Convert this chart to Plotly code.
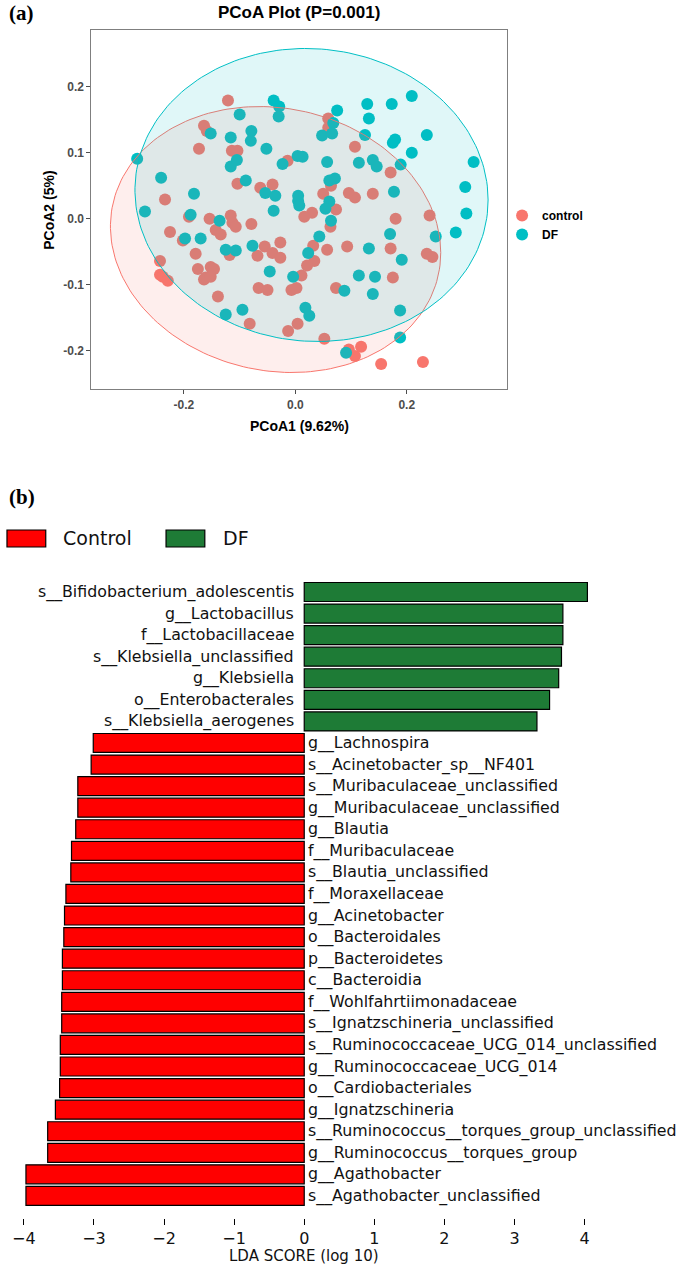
import numpy as np
import plotly.graph_objects as go

# ---------------- data: PCoA ----------------
control_x = [-0.121, -0.164, -0.159, -0.173, -0.114, -0.104, 0.059, 0.059, 0.107, -0.014,
             0.171, -0.104, -0.063, -0.041, -0.234, 0.050, 0.064, 0.096, 0.107, 0.139,
             0.030, 0.073, 0.016, 0.241, 0.180, 0.063, -0.191, -0.154, -0.116, -0.113,
             -0.107, -0.079, -0.225, -0.143, -0.134, -0.202, -0.179, -0.118, -0.027, -0.055,
             -0.041, -0.027, -0.068, 0.032, 0.057, 0.093, 0.171, 0.236, 0.246, -0.243,
             0.034, 0.021, -0.175, -0.152, -0.146, -0.243, -0.238, -0.229, -0.164, -0.161,
             -0.152, 0.011, 0.175, -0.139, -0.066, -0.050, -0.007, 0.002, 0.073, -0.082,
             0.004, -0.013, 0.052, 0.096, 0.107, 0.118, 0.154, 0.229]
control_y = [0.179, 0.141, 0.133, 0.106, 0.103, 0.103, 0.152, 0.138, 0.109, 0.088,
             0.070, 0.053, 0.047, 0.052, 0.029, 0.038, 0.050, 0.039, 0.032, 0.038,
             0.009, 0.014, 0.003, 0.005, 0.000, -0.012, 0.003, 0.000, 0.005, -0.006,
             -0.012, -0.008, -0.020, -0.017, -0.024, -0.033, -0.053, -0.055, -0.036, -0.042,
             -0.052, -0.059, -0.056, -0.041, -0.047, -0.042, -0.045, -0.053, -0.058, -0.064,
             -0.064, -0.071, -0.076, -0.073, -0.076, -0.085, -0.088, -0.094, -0.092, -0.089,
             -0.088, -0.086, -0.089, -0.118, -0.105, -0.108, -0.108, -0.105, -0.105, -0.159,
             -0.159, -0.170, -0.182, -0.198, -0.208, -0.194, -0.220, -0.217]

df_x = [-0.039, -0.029, -0.030, -0.100, 0.075, 0.068, 0.048, 0.066, 0.129, 0.132,
        0.125, 0.173, 0.209, 0.236, 0.179, 0.175, 0.209, 0.139, 0.146, 0.189,
        0.320, 0.305, -0.152, -0.116, -0.116, -0.105, -0.284, -0.241, -0.182, -0.270,
        -0.079, -0.080, -0.052, 0.004, 0.013, -0.023, 0.057, 0.114, -0.089, -0.054,
        -0.036, 0.005, 0.005, 0.007, 0.061, 0.071, 0.061, 0.054, -0.039, 0.177,
        -0.188, -0.136, 0.064, -0.198, -0.170, -0.125, -0.107, -0.077, 0.023, 0.043,
        0.132, 0.170, 0.252, 0.288, 0.307, 0.191, -0.046, -0.004, 0.114, 0.143,
        0.088, 0.139, -0.125, -0.095, 0.018, 0.025, 0.188, 0.091, 0.188]
df_y = [0.179, 0.170, 0.155, 0.158, 0.164, 0.145, 0.126, 0.129, 0.174, 0.152,
        0.127, 0.174, 0.186, 0.127, 0.120, 0.115, 0.100, 0.089, 0.079, 0.082,
        0.086, 0.048, 0.129, 0.123, 0.079, 0.089, 0.091, 0.062, 0.038, 0.011,
        0.133, 0.118, 0.106, 0.095, 0.094, 0.083, 0.086, 0.085, 0.058, 0.039,
        0.035, 0.035, 0.027, 0.020, 0.058, 0.061, 0.026, 0.015, 0.012, 0.041,
        0.006, -0.003, -0.003, -0.030, -0.030, -0.047, -0.048, -0.041, -0.052, -0.027,
        -0.045, -0.023, -0.027, -0.021, 0.008, -0.062, -0.080, -0.088, -0.086, -0.088,
        -0.109, -0.114, -0.145, -0.138, -0.135, -0.147, -0.139, -0.203, -0.180]

# ellipse parameters: centre and covariance-like shape matrix
ellipse_control = {"cx": -0.0355, "cy": -0.0315, "sxx": 0.2965 ** 2, "syy": 0.2015 ** 2, "sxy": -0.0059}
ellipse_df = {"cx": 0.029, "cy": 0.036, "sxx": 0.317 ** 2, "syy": 0.222 ** 2, "sxy": -0.0024}

# ---------------- data: LDA ----------------
lda_taxa = ["s__Bifidobacterium_adolescentis", "g__Lactobacillus", "f__Lactobacillaceae",
            "s__Klebsiella_unclassified", "g__Klebsiella", "o__Enterobacterales",
            "s__Klebsiella_aerogenes", "g__Lachnospira", "s__Acinetobacter_sp__NF401",
            "s__Muribaculaceae_unclassified", "g__Muribaculaceae_unclassified", "g__Blautia",
            "f__Muribaculaceae", "s__Blautia_unclassified", "f__Moraxellaceae", "g__Acinetobacter",
            "o__Bacteroidales", "p__Bacteroidetes", "c__Bacteroidia", "f__Wohlfahrtiimonadaceae",
            "s__Ignatzschineria_unclassified", "s__Ruminococcaceae_UCG_014_unclassified",
            "g__Ruminococcaceae_UCG_014", "o__Cardiobacteriales", "g__Ignatzschineria",
            "s__Ruminococcus__torques_group_unclassified", "g__Ruminococcus__torques_group",
            "g__Agathobacter", "s__Agathobacter_unclassified"]
lda_scores = [4.04, 3.69, 3.69, 3.67, 3.63, 3.50, 3.32, -3.01, -3.04, -3.23, -3.23, -3.26,
              -3.32, -3.33, -3.40, -3.42, -3.43, -3.45, -3.45, -3.46, -3.46, -3.48, -3.48,
              -3.49, -3.55, -3.66, -3.66, -3.97, -3.97]
lda_ticks = [-4, -3, -2, -1, 0, 1, 2, 3, 4]

W, H = 685, 1269
def fx(p):
    return p / W
def fy(p):
    return 1 - p / H

C_RED = "#F8766D"
C_CYAN = "#00BFC4"

fig = go.Figure()

# points
fig.add_trace(go.Scatter(x=control_x, y=control_y, mode="markers", name="control",
                         marker=dict(color=C_RED, size=12, line=dict(width=0)),
                         xaxis="x", yaxis="y"))
fig.add_trace(go.Scatter(x=df_x, y=df_y, mode="markers", name="DF",
                         marker=dict(color=C_CYAN, size=12, line=dict(width=0)),
                         xaxis="x", yaxis="y"))

def ellipse_pts(e, n=200):
    A = np.array([[e["sxx"], e["sxy"]], [e["sxy"], e["syy"]]])
    L = np.linalg.cholesky(A)
    t = np.linspace(0, 2 * np.pi, n)
    u = np.vstack([np.cos(t), np.sin(t)])
    p = L @ u
    return p[0] + e["cx"], p[1] + e["cy"]

for e, col, fillc in [(ellipse_control, C_RED, "rgba(248,118,109,0.12)"),
                      (ellipse_df, C_CYAN, "rgba(0,191,196,0.12)")]:
    ex, ey = ellipse_pts(e)
    fig.add_trace(go.Scatter(x=ex, y=ey, mode="lines", fill="toself", fillcolor=fillc,
                             line=dict(color=col, width=1), showlegend=False,
                             hoverinfo="skip", xaxis="x", yaxis="y"))

# LDA bars
pos_t = [t for t, s in zip(lda_taxa, lda_scores) if s < 0]
pos_s = [s for s in lda_scores if s < 0]
neg_t = [t for t, s in zip(lda_taxa, lda_scores) if s > 0]
neg_s = [s for s in lda_scores if s > 0]
fig.add_trace(go.Bar(y=pos_t, x=pos_s, orientation="h", name="Control",
                     marker=dict(color="#FF0000", line=dict(color="black", width=1.2)),
                     width=0.88, showlegend=False, xaxis="x2", yaxis="y2"))
fig.add_trace(go.Bar(y=neg_t, x=neg_s, orientation="h", name="DF ",
                     marker=dict(color="#1E7B36", line=dict(color="black", width=1.2)),
                     width=0.88, showlegend=False, xaxis="x2", yaxis="y2"))

annotations = []
for t, s in zip(lda_taxa, lda_scores):
    annotations.append(dict(x=0, y=t, xref="x2", yref="y2", text=t, showarrow=False,
                            xanchor="right" if s > 0 else "left", yanchor="middle",
                            xshift=-8 if s > 0 else 2,
                            font=dict(family="DejaVu Sans", size=15.8, color="#111111")))

# panel labels / titles
annotations += [
    dict(x=fx(3), y=fy(13), xref="paper", yref="paper", text="<b>(a)</b>", showarrow=False,
         xanchor="left", yanchor="middle", font=dict(family="Liberation Serif", size=21, color="black")),
    dict(x=fx(3), y=fy(497), xref="paper", yref="paper", text="<b>(b)</b>", showarrow=False,
         xanchor="left", yanchor="middle", font=dict(family="Liberation Serif", size=21, color="black")),
    dict(x=fx(297), y=fy(12), xref="paper", yref="paper", text="PCoA Plot (P=0.001)", showarrow=False,
         xanchor="center", yanchor="middle",
         font=dict(family="Liberation Sans", size=17, color="black", weight="bold")),
    dict(x=fx(297), y=fy(426), xref="paper", yref="paper", text="PCoA1 (9.62%)", showarrow=False,
         xanchor="center", yanchor="middle",
         font=dict(family="Liberation Sans", size=14, color="black", weight="bold")),
    dict(x=fx(45), y=fy(210), xref="paper", yref="paper", text="PCoA2 (5%)", showarrow=False,
         xanchor="center", yanchor="middle", textangle=-90,
         font=dict(family="Liberation Sans", size=14, color="black", weight="bold")),
    dict(x=0, y=fy(1256), xref="x2", yref="paper", text="LDA SCORE (log 10)", showarrow=False,
         xanchor="center", yanchor="middle",
         font=dict(family="DejaVu Sans", size=15, color="#111111")),
    dict(x=fx(57), y=fy(538), xref="paper", yref="paper", text="Control", showarrow=False,
         xanchor="left", yanchor="middle", font=dict(family="DejaVu Sans", size=19, color="#111111")),
    dict(x=fx(218), y=fy(538), xref="paper", yref="paper", text="DF", showarrow=False,
         xanchor="left", yanchor="middle", font=dict(family="DejaVu Sans", size=19, color="#111111")),
]

shapes = [
    dict(type="rect", xref="paper", yref="paper", x0=fx(3), x1=fx(42), y0=fy(547), y1=fy(530),
         fillcolor="#FF0000", line=dict(color="black", width=1.2)),
    dict(type="rect", xref="paper", yref="paper", x0=fx(163), x1=fx(202), y0=fy(547), y1=fy(530),
         fillcolor="#1E7B36", line=dict(color="black", width=1.2)),
]

fig.update_layout(
    width=W, height=H, margin=dict(l=0, r=0, t=0, b=0),
    paper_bgcolor="white", plot_bgcolor="white",
    showlegend=True,
    legend=dict(x=fx(501), y=fy(225), xanchor="left", yanchor="middle",
                font=dict(family="Liberation Sans", size=12, color="black", weight="bold"),
                bgcolor="rgba(0,0,0,0)", itemsizing="constant", tracegroupgap=0),
    xaxis=dict(domain=[fx(88), fx(506)], range=[-0.366, 0.380], anchor="y",
               tickvals=[-0.2, 0.0, 0.2], ticktext=["-0.2", "0.0", "0.2"],
               showgrid=False, zeroline=False, showline=True, mirror=True,
               linecolor="#7f7f7f", linewidth=1.3, ticks="outside", ticklen=4,
               tickcolor="#4d4d4d", tickfont=dict(family="Liberation Sans", size=12,
                                                  color="#4d4d4d", weight="bold")),
    yaxis=dict(domain=[fy(389), fy(30)], range=[-0.258, 0.286], anchor="x",
               tickvals=[-0.2, -0.1, 0.0, 0.1, 0.2], ticktext=["-0.2", "-0.1", "0.0", "0.1", "0.2"],
               showgrid=False, zeroline=False, showline=True, mirror=True,
               linecolor="#7f7f7f", linewidth=1.3, ticks="outside", ticklen=4,
               tickcolor="#4d4d4d", tickfont=dict(family="Liberation Sans", size=12,
                                                  color="#4d4d4d", weight="bold")),
    xaxis2=dict(domain=[fx(12), fx(597)], range=[-4.113, 4.184], anchor="y2",
                tickvals=lda_ticks, showgrid=False, zeroline=False, showline=False,
                ticks="outside", ticklen=6, tickwidth=1.3, tickcolor="black",
                tickfont=dict(family="DejaVu Sans", size=16, color="#111111")),
    yaxis2=dict(domain=[fy(1217.5), fy(581.2)], range=[29.0, -0.5], anchor="x2",
                type="category", categoryorder="array", categoryarray=lda_taxa,
                showticklabels=False, showgrid=False, zeroline=False, showline=False, ticks=""),
    annotations=annotations, shapes=shapes,
    barmode="overlay",
)

fig.write_html("out.html", config={"displayModeBar": False},
               post_script="document.body.style.margin='0';document.body.style.padding='0';")
